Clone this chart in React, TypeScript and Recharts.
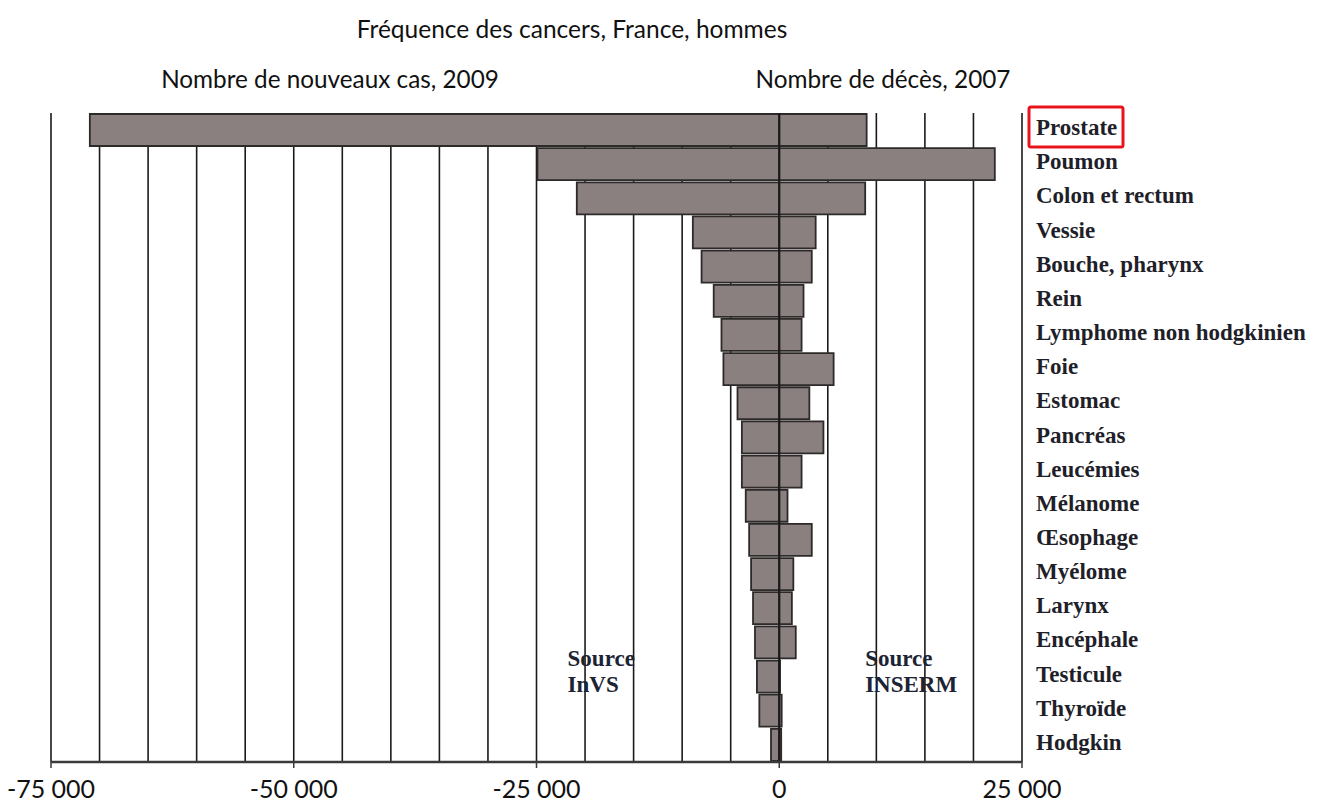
import React from "react";
import {
  BarChart,
  Bar,
  XAxis,
  YAxis,
  CartesianGrid,
  ReferenceLine,
  ReferenceDot,
} from "recharts";

const categories = [
  "Prostate",
  "Poumon",
  "Colon et rectum",
  "Vessie",
  "Bouche, pharynx",
  "Rein",
  "Lymphome non hodgkinien",
  "Foie",
  "Estomac",
  "Pancréas",
  "Leucémies",
  "Mélanome",
  "Œsophage",
  "Myélome",
  "Larynx",
  "Encéphale",
  "Testicule",
  "Thyroïde",
  "Hodgkin",
];

// Nombre de nouveaux cas, 2009 (drawn to the left)
const newCases = [
  71000, 24900, 20850, 8900, 8000, 6750, 5950, 5750, 4300, 3850, 3850, 3450,
  3100, 2900, 2700, 2500, 2300, 2050, 850,
];

// Nombre de décès, 2007 (drawn to the right)
const deaths = [
  9000, 22200, 8850, 3750, 3350, 2500, 2300, 5600, 3100, 4550, 2300, 850, 3350,
  1450, 1300, 1700, 80, 250, 200,
];

const axisTicks = [-75000, -50000, -25000, 0, 25000];
const gridValues = [
  -75000, -70000, -65000, -60000, -55000, -50000, -45000, -40000, -35000,
  -30000, -25000, -20000, -15000, -10000, -5000, 0, 5000, 10000, 15000, 20000,
  25000,
];

const title = "Fréquence des cancers, France, hommes";
const leftHeader = "Nombre de nouveaux cas, 2009";
const rightHeader = "Nombre de décès, 2007";

const data = categories.map((name, i) => ({
  name,
  cas: -newCases[i],
  deces: deaths[i],
}));

const SANS = "Lato, 'Open Sans', sans-serif";
const SERIF = "'Liberation Serif', 'DejaVu Serif', serif";
const BAR_FILL = "#8a8080";
const BAR_STROKE = "#2e2a2a";

const fmt = (v: number) => {
  const s = Math.abs(v)
    .toString()
    .replace(/\B(?=(\d{3})+(?!\d))/g, " ");
  return (v < 0 ? "-" : "") + s;
};

const XTick = (props: any) => {
  const { x, y, payload } = props;
  return (
    <text
      x={x}
      y={y}
      dy={14}
      textAnchor="middle"
      fontFamily={SANS}
      fontSize={25}
      fill="#111"
    >
      {fmt(payload.value)}
    </text>
  );
};

const YTick = (props: any) => {
  const { x, y, payload, index } = props;
  return (
    <g>
      {index === 0 && (
        <rect
          x={x - 7}
          y={y - 23}
          width={94}
          height={40}
          rx={2}
          fill="none"
          stroke="#e8141b"
          strokeWidth={3}
        />
      )}
      <text
        x={x}
        y={y}
        dy={5}
        textAnchor="start"
        fontFamily={SERIF}
        fontWeight="bold"
        fontSize={23}
        fill="#1f1f2a"
      >
        {payload.value}
      </text>
    </g>
  );
};

const sourceShape = (lines: string[]) => (props: any) => {
  const { cx, cy } = props;
  return (
    <text
      x={cx}
      y={cy}
      fontFamily={SERIF}
      fontWeight="bold"
      fontSize={23}
      fill="#1c2434"
    >
      <tspan x={cx} dy={-10.6}>
        {lines[0]}
      </tspan>
      <tspan x={cx} dy={26}>
        {lines[1]}
      </tspan>
    </text>
  );
};

export default function App() {
  return (
    <div
      style={{
        position: "absolute",
        left: 0,
        top: 0,
        width: 1322,
        height: 806,
        background: "#fff",
      }}
    >
      <svg
        width={1322}
        height={110}
        style={{ position: "absolute", left: 0, top: 0 }}
      >
        <text
          x={572}
          y={38}
          textAnchor="middle"
          fontFamily={SANS}
          fontSize={24.5}
          fill="#111"
        >
          {title}
        </text>
        <text
          x={330}
          y={88}
          textAnchor="middle"
          fontFamily={SANS}
          fontSize={24.3}
          fill="#111"
        >
          {leftHeader}
        </text>
        <text
          x={883}
          y={88}
          textAnchor="middle"
          fontFamily={SANS}
          fontSize={24.3}
          fill="#111"
        >
          {rightHeader}
        </text>
      </svg>
      <div style={{ position: "absolute", left: 0, top: 0 }}>
        <BarChart
          width={1322}
          height={806}
          data={data}
          layout="vertical"
          stackOffset="sign"
          barCategoryGap={1}
          margin={{ top: 113, right: 0, bottom: 0, left: 51 }}
        >
          <CartesianGrid
            horizontal={false}
            vertical={true}
            stroke="#1a1a1a"
            strokeWidth={1.6}
            verticalValues={gridValues}
          />
          <XAxis
            type="number"
            domain={[-75000, 25000]}
            ticks={axisTicks}
            allowDataOverflow
            height={44}
            tick={<XTick />}
            tickSize={6}
            tickMargin={16}
            axisLine={{ stroke: "#3a3a3a", strokeWidth: 2.5 }}
            tickLine={{ stroke: "#3a3a3a", strokeWidth: 1.5 }}
            interval={0}
          />
          <YAxis
            type="category"
            dataKey="name"
            orientation="right"
            width={300}
            axisLine={false}
            tickLine={false}
            tickSize={6}
            tickMargin={8}
            interval={0}
            tick={<YTick />}
          />
          <Bar
            dataKey="cas"
            stackId="s"
            fill={BAR_FILL}
            stroke={BAR_STROKE}
            strokeWidth={1.8}
            isAnimationActive={false}
          />
          <Bar
            dataKey="deces"
            stackId="s"
            fill={BAR_FILL}
            stroke={BAR_STROKE}
            strokeWidth={1.8}
            isAnimationActive={false}
          />
          <ReferenceLine x={0} stroke="#1a1a1a" strokeWidth={2} />
          <ReferenceDot
            x={-21800}
            y="Testicule"
            r={0}
            ifOverflow="visible"
            shape={sourceShape(["Source", "InVS"])}
          />
          <ReferenceDot
            x={8850}
            y="Testicule"
            r={0}
            ifOverflow="visible"
            shape={sourceShape(["Source", "INSERM"])}
          />
        </BarChart>
      </div>
    </div>
  );
}
